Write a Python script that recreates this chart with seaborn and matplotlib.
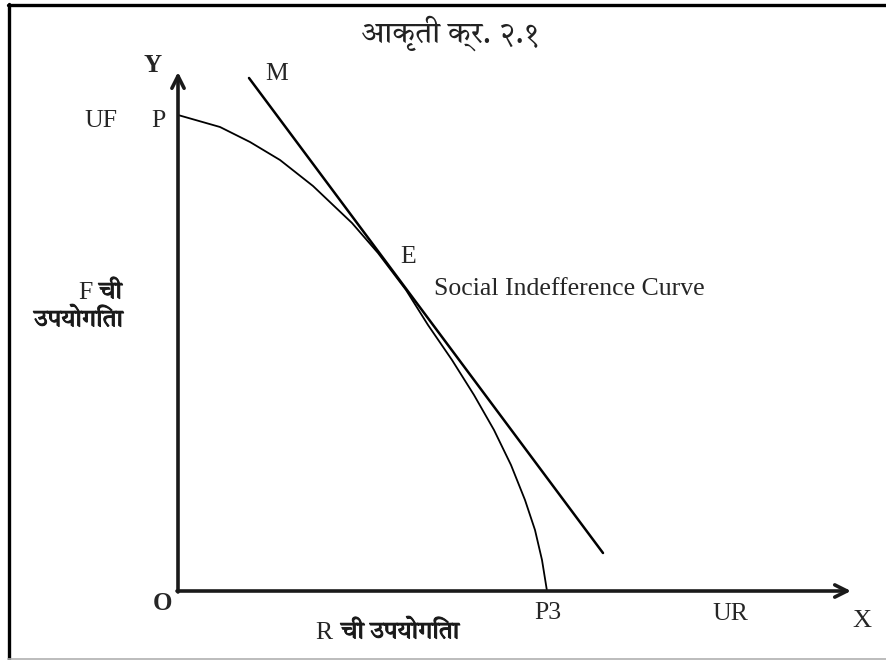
import matplotlib
matplotlib.use("Agg")
import matplotlib.pyplot as plt
import matplotlib.patheffects as pe
import seaborn as sns
import pandas as pd
from matplotlib import font_manager
from matplotlib.ft2font import FT2Font
from matplotlib.lines import Line2D

# ---- data (origin at O) ----
curve_x = [0.0, 4.2, 7.2, 10.2, 13.5, 17.4, 20.0, 22.8, 25.0, 27.4, 29.6,
           31.6, 33.3, 34.7, 35.7, 36.4, 36.9]
curve_y = [47.6, 46.4, 44.9, 43.1, 40.5, 36.8, 33.8, 30.1, 26.6, 23.1, 19.6,
           16.1, 12.6, 9.1, 6.1, 3.1, 0.0]
tangent_x = [7.1, 42.5]
tangent_y = [51.3, 3.8]
x_axis_end = 67.3
y_axis_end = 51.9

title_text = "आकृती क्र. २.१"
f_letter = "F"
r_letter = "R"
chi_text = "ची"
utility_text = "उपयोगिता"
x_label_deva = "ची उपयोगिता"


def find_font(ch):
    best = None
    for f in font_manager.fontManager.ttflist:
        try:
            if ord(ch) in FT2Font(f.fname).get_charmap():
                if best is None or "Sans" in f.name:
                    best = f.name
        except Exception:
            pass
    return best


deva = find_font("क")

sns.set_theme(style="white")
serif = ["Liberation Serif", "DejaVu Serif"]
deva_fam = [deva] if deva else []
plt.rcParams["font.family"] = serif + deva_fam

fig = plt.figure(figsize=(8.86, 6.60), dpi=100)
ax = fig.add_axes([0, 0, 1, 1])
ax.set_xlim(-17.8, 70.8)
ax.set_ylim(-6.9, 59.1)
ax.axis("off")

curve_df = pd.DataFrame({"x": curve_x, "y": curve_y})
tan_df = pd.DataFrame({"x": tangent_x, "y": tangent_y})
sns.lineplot(data=curve_df, x="x", y="y", sort=False, color="black", lw=1.3, ax=ax)
sns.lineplot(data=tan_df, x="x", y="y", sort=False, color="black", lw=1.8, ax=ax)

# axes arrows
ax.annotate("", xy=(x_axis_end, 0), xytext=(-0.1, 0),
            arrowprops=dict(arrowstyle="->", lw=2.6, color="#1a1a1a", mutation_scale=22,
                            shrinkA=0, shrinkB=0))
ax.annotate("", xy=(0, y_axis_end), xytext=(0, -0.1),
            arrowprops=dict(arrowstyle="->", lw=2.6, color="#1a1a1a", mutation_scale=22,
                            shrinkA=0, shrinkB=0))

# frame
W, H = 886, 660
def fl(x0, y0, x1, y1, **kw):
    fig.add_artist(Line2D([x0 / W, x1 / W], [1 - y0 / H, 1 - y1 / H],
                          transform=fig.transFigure, **kw))
fl(8, 4.5, 886, 4.5, color="black", lw=2.4)
fl(8.5, 4, 8.5, 660, color="black", lw=2.4)
fl(8, 658.5, 886, 658.5, color="#b0b0b0", lw=1.2)

def px(xp, yp):
    return ((xp - 178) / 10.0, (591 - yp) / 10.0)

fs = 18.5
bold_fx = [pe.withStroke(linewidth=0.7, foreground="#1a1a1a")]
dfam = deva_fam + serif
ax.text(*px(450, 33), title_text, ha="center", va="center", fontsize=21.5, family=dfam,
        color="#222222")
ax.text(*px(153, 66), "Y", ha="center", va="center", fontsize=18, fontweight="bold")
ax.text(*px(277, 74), "M", ha="center", va="center", fontsize=fs)
ax.text(*px(101, 121), "UF", ha="center", va="center", fontsize=fs)
ax.text(*px(158, 121), "P", ha="center", va="center", fontsize=fs)
ax.text(*px(408, 257), "E", ha="center", va="center", fontsize=fs)
ax.text(*px(434, 289), "Social Indefference Curve", ha="left", va="center", fontsize=fs)
ax.text(*px(93, 293), f_letter, ha="right", va="center", fontsize=fs)
ax.text(*px(99, 292), chi_text, ha="left", va="center", fontsize=17.5, family=dfam,
        color="#1a1a1a", path_effects=bold_fx)
ax.text(*px(123, 320), utility_text, ha="right", va="center", fontsize=17.5, family=dfam,
        color="#1a1a1a", path_effects=bold_fx)
ax.text(*px(163, 603), "O", ha="center", va="center", fontsize=18, fontweight="bold")
ax.text(*px(315, 633), r_letter, ha="left", va="center", fontsize=fs)
ax.text(*px(341, 632), x_label_deva, ha="left", va="center", fontsize=17.5, family=dfam,
        color="#1a1a1a", path_effects=bold_fx)
ax.text(*px(548, 613), "P3", ha="center", va="center", fontsize=fs)
ax.text(*px(730, 614), "UR", ha="center", va="center", fontsize=fs)
ax.text(*px(862, 621), "X", ha="center", va="center", fontsize=19)

fig.savefig("out.png", dpi=100)
